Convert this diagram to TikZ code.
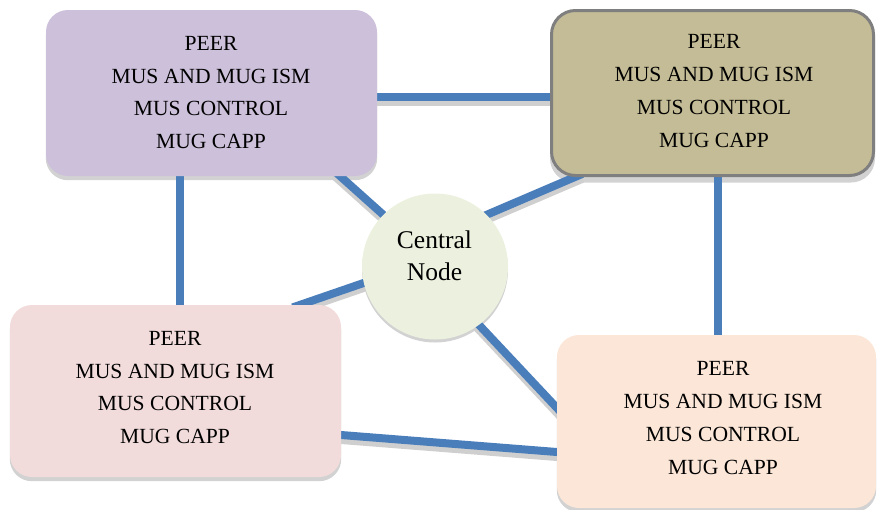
\documentclass[tikz,border=0pt]{standalone}
\usepackage{fontspec}
\setmainfont{Liberation Serif}
\usetikzlibrary{calc}

\definecolor{peerlilac}{HTML}{CCC0DA}
\definecolor{peertan}{HTML}{C4BC96}
\definecolor{peerrose}{HTML}{F2DCDB}
\definecolor{peerpeach}{HTML}{FBE6D8}
\definecolor{hubgreen}{HTML}{EBF1DE}
\definecolor{linkblue}{HTML}{4A7EBB}
\definecolor{linkshade}{HTML}{CFCFCF}
\definecolor{boxshade}{HTML}{D2D2D2}
\definecolor{rimgray}{HTML}{7F7F7F}

\pgfdeclarelayer{shadows}
\pgfdeclarelayer{links}
\pgfsetlayers{shadows,links,main}

\tikzset{
  peerbox/.style={rectangle, rounded corners=22pt, draw=none, inner sep=0pt},
  peertext/.style={align=center, inner sep=0pt, text=black,
    font=\fontsize{21.6}{32.8}\selectfont},
  hub/.style={circle, fill=hubgreen, draw=none, minimum size=146pt, inner sep=0pt},
  hubtext/.style={align=center, inner sep=0pt, text=black,
    font=\fontsize{25.5}{32}\selectfont},
  linkline/.style={line width=8pt, draw=linkblue, shorten <=-8pt, shorten >=-8pt},
  linkshadow/.style={line width=8pt, draw=linkshade, shorten <=-8pt, shorten >=-8pt},
}

% all connectors, drawn once as shadow and once in blue
\newcommand\peerlinks[1]{%
  \draw[#1] ([yshift=-4pt]tl.east) -- ([yshift=-4pt]tr.west);
  \draw[#1] ([xshift=-31.5pt]tl.south) -- ([xshift=-31.5pt]tl.south |- bl.north);
  \draw[#1] ([xshift=5.5pt]tr.south) -- ([xshift=5.5pt]tr.south |- br.north);
  \draw[#1] (hubc.135) -- ([xshift=-37pt]tl.south east);
  \draw[#1] (hubc.45) -- ([xshift=25pt]tr.south west);
  \draw[#1] (hubc.193) -- ([xshift=-41pt]bl.north east);
  \draw[#1] (hubc.-53) -- ([yshift=-73pt]br.north west);
  \draw[#1] ([yshift=-44pt]bl.east) -- ([yshift=-30.5pt]br.west);
}

\begin{document}
\begin{tikzpicture}[x=1pt, y=-1pt]
  \useasboundingbox (0,0) rectangle (877,509);

  % peer boxes
  \node[peerbox, fill=peerlilac, minimum width=331pt, minimum height=166pt] (tl) at (211.5,93) {};
  \node[peerbox, fill=peertan, draw=rimgray, line width=3pt, rounded corners=24pt,
        minimum width=322pt, minimum height=165pt] (tr) at (712.5,93) {};
  \node[peerbox, fill=peerrose, minimum width=331pt, minimum height=172pt] (bl) at (175.5,391) {};
  \node[peerbox, fill=peerpeach, minimum width=319pt, minimum height=173pt] (br) at (716.5,421.5) {};

  % central node
  \node[hub] (hubc) at (435,266.5) {};
  \node[hubtext] (hubtxt) at (434.5,256) {Central\\Node};

  % box labels
  \node[peertext] (tltext) at (211,92.5) {PEER\\MUS AND MUG ISM\\MUS CONTROL\\MUG CAPP};
  \node[peertext] (trtext) at (714,91) {PEER\\MUS AND MUG ISM\\MUS CONTROL\\MUG CAPP};
  \node[peertext] (bltext) at (175,387.5) {PEER\\MUS AND MUG ISM\\MUS CONTROL\\MUG CAPP};
  \node[peertext] (brtext) at (723,418) {PEER\\MUS AND MUG ISM\\MUS CONTROL\\MUG CAPP};

  % soft shadows under boxes and hub
  \begin{pgfonlayer}{shadows}
    \fill[boxshade, rounded corners=22pt] ([yshift=-4pt]tl.south west) rectangle ([yshift=-4pt]tl.north east);
    \fill[boxshade, rounded corners=24pt] ([yshift=-5.5pt]tr.south west) rectangle ([yshift=-5.5pt]tr.north east);
    \fill[boxshade, rounded corners=22pt] ([yshift=-4pt]bl.south west) rectangle ([yshift=-4pt]bl.north east);
    \fill[boxshade, rounded corners=22pt] ([yshift=-4pt]br.south west) rectangle ([yshift=-4pt]br.north east);
    \fill[boxshade] ([yshift=-3pt]hubc.center) circle[radius=73pt];
  \end{pgfonlayer}

  % connectors
  \begin{pgfonlayer}{links}
    \begin{scope}[transform canvas={yshift=-5pt}]
      \peerlinks{linkshadow}
    \end{scope}
    \peerlinks{linkline}
  \end{pgfonlayer}
\end{tikzpicture}
\end{document}
